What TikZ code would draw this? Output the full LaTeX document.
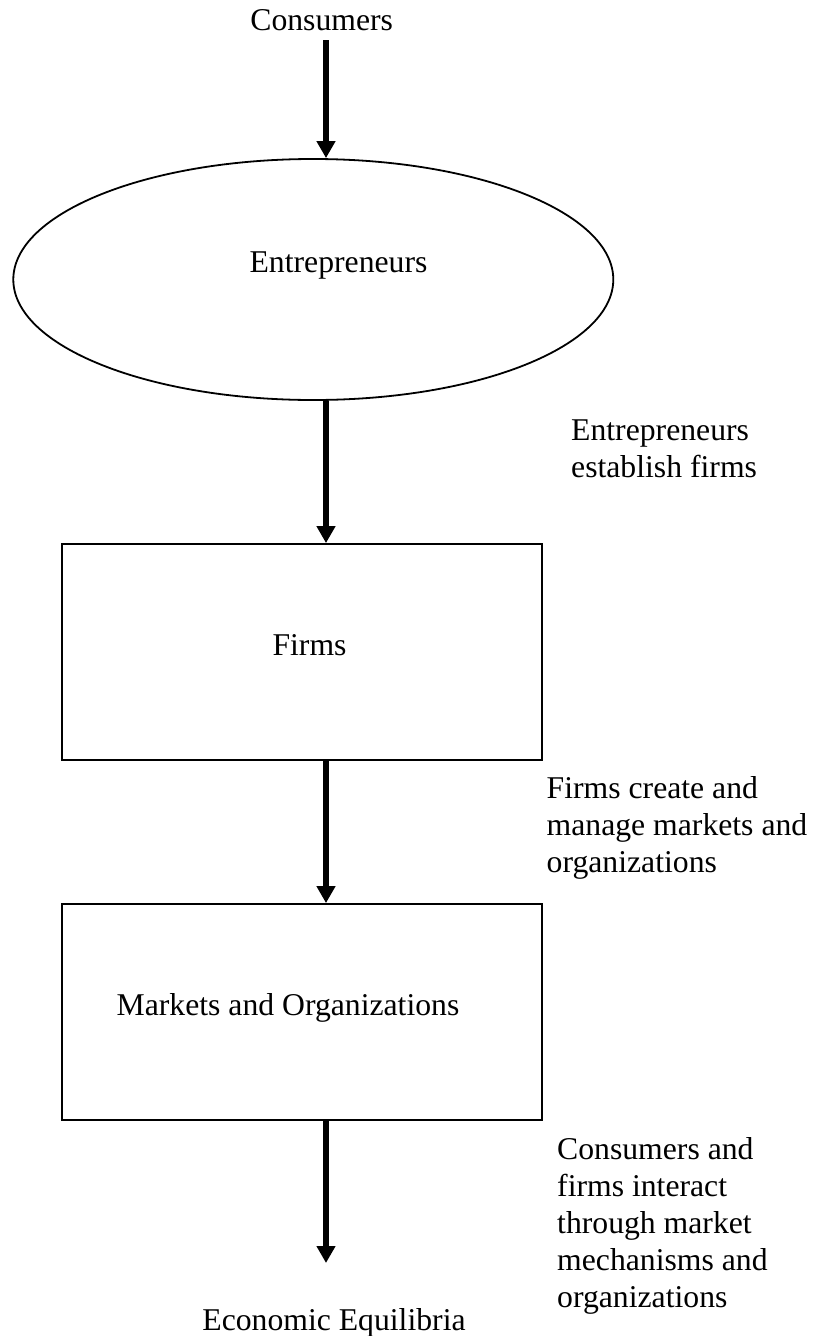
\documentclass[tikz,border=0pt]{standalone}
\usepackage{fontspec}
\setmainfont{Liberation Serif}
\usetikzlibrary{arrows.meta,shapes.geometric}
\begin{document}
\begin{tikzpicture}[x=1pt,y=-1pt,
  every node/.style={inner sep=0pt, font=\fontsize{31.7}{37}\selectfont},
  boxshape/.style={draw, line width=1.8pt, rectangle, minimum width=480pt, minimum height=216pt},
  ovalshape/.style={draw, line width=1.8pt, ellipse, minimum width=600pt, minimum height=241pt},
  txt/.style={anchor=base},
  lbl/.style={anchor=base west, align=left},
  flow/.style={line width=6.5pt, -{Triangle[width=18pt,length=17pt]}, shorten >=0pt}]
\useasboundingbox (0,0) rectangle (819,1336);
\node[txt] (cons) at (321.7,30.5) {Consumers};
\node[ovalshape] (ent) at (313.3,279.5) {};
\node[txt] at (338.5,272.7) {Entrepreneurs};
\node[boxshape] (firms) at (302,652) {};
\node[txt] at (309.5,655) {Firms};
\node[boxshape] (mkt) at (302,1012) {};
\node[txt] at (288,1015) {Markets and Organizations};
\node[txt] (econ) at (334,1330) {Economic Equilibria};
\coordinate (ax) at (326,40);
\coordinate (end) at (326,1263);
\node[lbl] (l1) at (571,477) {Entrepreneurs\\establish firms};
\node[lbl] (l2) at (546.5,872) {Firms create and\\manage markets and\\organizations};
\node[lbl] (l3) at (557,1307) {Consumers and\\firms interact\\through market\\mechanisms and\\organizations};
\draw[flow] (ax) -- (ent.north -| ax);
\draw[flow] (ent.south -| ax) -- (firms.north -| ax);
\draw[flow] (firms.south -| ax) -- (mkt.north -| ax);
\draw[flow] (mkt.south -| ax) -- (end);
\end{tikzpicture}
\end{document}
